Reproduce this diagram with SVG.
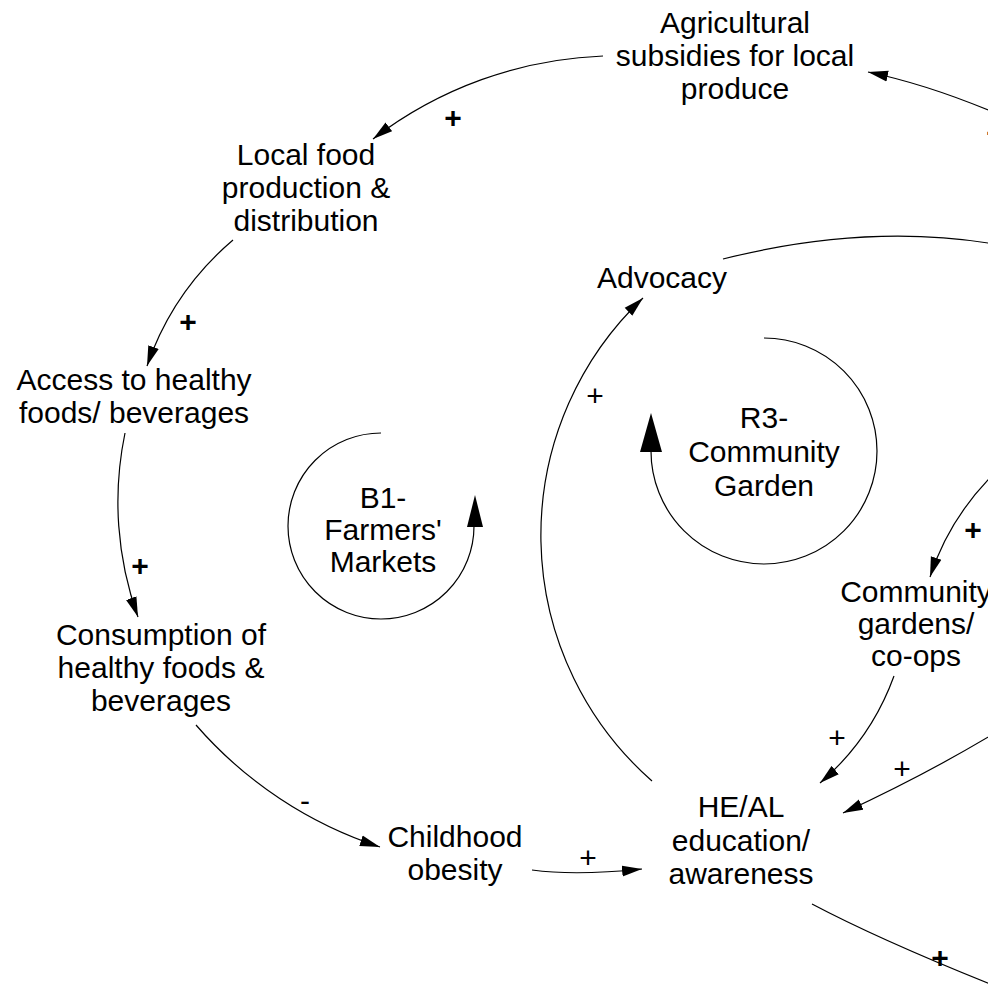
<svg xmlns="http://www.w3.org/2000/svg" width="988" height="984" viewBox="0 0 988 984">
<style>
.t{font-family:"Liberation Sans",Arial,sans-serif;font-size:30px;fill:#000;text-anchor:middle}
.p{font-family:"Liberation Sans",Arial,sans-serif;font-size:30px;fill:#000;text-anchor:middle}
.b{font-weight:bold}
.c{fill:none;stroke:#000;stroke-width:1.2}
</style>
<defs>
<marker id="ah" markerUnits="userSpaceOnUse" markerWidth="22" markerHeight="12" refX="20" refY="6" orient="auto">
<path d="M0,0.5 L20,6 L0,11.5 z" fill="#000"/>
</marker>
</defs>
<rect width="988" height="984" fill="#fff"/>
<g id="connectors">
<path class="c" d="M603 56 A404 404 0 0 0 373 139" marker-end="url(#ah)"/>
<path class="c" d="M233 240 A289 289 0 0 0 147 366" marker-end="url(#ah)"/>
<path class="c" d="M125 433 A339 339 0 0 0 138 617" marker-end="url(#ah)"/>
<path class="c" d="M196 725 A413 413 0 0 0 380 847" marker-end="url(#ah)"/>
<path class="c" d="M532 870 Q575 876 642 869" marker-end="url(#ah)"/>
<path class="c" d="M652 781 A327 327 0 0 1 643 298" marker-end="url(#ah)"/>
<path class="c" d="M723 259 Q870 222 1000 245"/>
<path class="c" d="M1000 115 Q930 85 868 72" marker-end="url(#ah)"/>
<path class="c" d="M1000 468 Q950 515 930 577" marker-end="url(#ah)"/>
<path class="c" d="M894 676 A256 256 0 0 1 820 783" marker-end="url(#ah)"/>
<path class="c" d="M995 733 Q925 775 843 813" marker-end="url(#ah)"/>
<path class="c" d="M812 904 Q880 940 1000 988"/>
<text class="p b" x="453" y="128">+</text>
<text class="p b" x="188" y="332">+</text>
<text class="p b" x="140" y="576">+</text>
<text class="p" x="305" y="811">-</text>
<text class="p" x="588" y="868">+</text>
<text class="p" x="595" y="406">+</text>
<text class="p" x="837" y="748">+</text>
<text class="p" x="902" y="779">+</text>
<text class="p b" x="940" y="968">+</text>
<text class="p b" x="973" y="540">+</text>
<text class="p b" x="995" y="143">+</text>
</g>
<g id="loop-b1">
<path class="c" d="M381 433 A93 93 0 1 0 474 526"/>
<polygon points="475,495 467,527 483,527" fill="#000"/>
<text class="t" x="383" y="508">B1-</text>
<text class="t" x="383" y="540">Farmers'</text>
<text class="t" x="383" y="572">Markets</text>
</g>
<g id="loop-r3">
<path class="c" d="M764 338 A113 113 0 1 1 651 451"/>
<polygon points="651,413 640,452 662,452" fill="#000"/>
<text class="t" x="764" y="428">R3-</text>
<text class="t" x="764" y="462">Community</text>
<text class="t" x="764" y="496">Garden</text>
</g>
<g id="agricultural-subsidies">
<text class="t" x="735" y="33">Agricultural</text>
<text class="t" x="735" y="66">subsidies for local</text>
<text class="t" x="735" y="99">produce</text>
</g>
<g id="local-food">
<text class="t" x="306" y="165">Local food</text>
<text class="t" x="306" y="198">production &amp;</text>
<text class="t" x="306" y="231">distribution</text>
</g>
<g id="access">
<text class="t" x="134" y="390">Access to healthy</text>
<text class="t" x="134" y="423">foods/ beverages</text>
</g>
<g id="consumption">
<text class="t" x="161" y="645">Consumption of</text>
<text class="t" x="161" y="678">healthy foods &amp;</text>
<text class="t" x="161" y="711">beverages</text>
</g>
<g id="childhood-obesity">
<text class="t" x="455" y="847">Childhood</text>
<text class="t" x="455" y="880">obesity</text>
</g>
<g id="heal-education">
<text class="t" x="741" y="817">HE/AL</text>
<text class="t" x="741" y="851">education/</text>
<text class="t" x="741" y="884">awareness</text>
</g>
<g id="advocacy">
<text class="t" x="662" y="288">Advocacy</text>
</g>
<g id="community-gardens">
<text class="t" x="916" y="602">Community</text>
<text class="t" x="916" y="634">gardens/</text>
<text class="t" x="916" y="666">co-ops</text>
</g>
</svg>
